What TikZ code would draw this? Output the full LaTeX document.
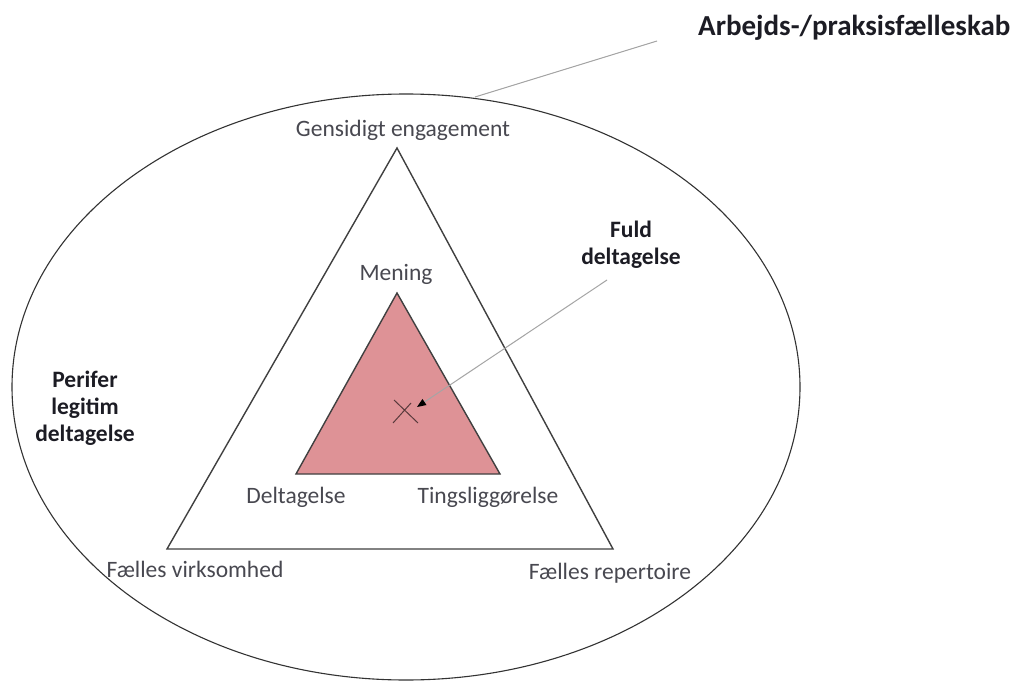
\documentclass[tikz,border=0pt]{standalone}
\usepackage{fontspec}
\setmainfont{Carlito}
\usetikzlibrary{arrows.meta}
\definecolor{inner}{RGB}{222,146,150}
\definecolor{lbl}{RGB}{72,72,80}
\definecolor{blk}{RGB}{28,28,36}
\definecolor{thin}{RGB}{165,165,165}
\begin{document}
\begin{tikzpicture}[x=1pt,y=-1pt,
  lab/.style={text=lbl,font=\fontsize{23.5}{27}\selectfont,inner sep=0pt},
  blab/.style={text=blk,font=\bfseries\fontsize{23.5}{27}\selectfont,inner sep=0pt,align=center},
  edge/.style={draw=black!75,line width=1.4pt,line join=miter},
  pointer/.style={draw=thin,line width=1pt}]
\useasboundingbox (0,0) rectangle (1020,682);
\fill[white] (0,0) rectangle (1020,682);
% outer ellipse
\draw[black!80,line width=1.1pt] (406,387) ellipse [x radius=394, y radius=293];
% outer triangle
\coordinate (OA) at (397,148);
\coordinate (OL) at (167,549);
\coordinate (OR) at (613,549);
\draw[edge] (OA) -- (OL) -- (OR) -- cycle;
% inner triangle
\coordinate (IA) at (397,293);
\coordinate (IL) at (296,474);
\coordinate (IR) at (500,474);
\draw[edge,fill=inner] (IA) -- (IL) -- (IR) -- cycle;
% cross
\coordinate (x1) at (394,400);
\coordinate (x2) at (418,423);
\coordinate (x3) at (393,423);
\coordinate (x4) at (411,403);
\draw[draw=black!60!inner,line width=1pt] (x1) -- (x2) (x3) -- (x4);
% labels
\node[text=blk,font=\bfseries\fontsize{29}{34}\selectfont,inner sep=0pt,anchor=base west] (title) at (698,36) {Arbejds-/praksisfælleskab};
\node[lab,anchor=base] (ge) at (403,137) {Gensidigt engagement};
\node[lab,anchor=base] (men) at (396,280) {Mening};
\node[blab] (fuld) at (631,245) {Fuld\\deltagelse};
\node[blab] (per) at (85,408) {Perifer\\legitim\\deltagelse};
\node[lab,anchor=base] (del) at (296,503) {Deltagelse};
\node[lab,anchor=base] (ting) at (488,503) {Tingsliggørelse};
\node[lab,anchor=base] (fv) at (195,577) {Fælles virksomhed};
\node[lab,anchor=base] (fr) at (610,579) {Fælles repertoire};
% pointers
\coordinate (ellTop) at (475,97);
\coordinate (tEnd) at (657,41);
\draw[pointer] (ellTop) -- (tEnd);
\coordinate (aStart) at (607,280);
\coordinate (aEnd) at (417,407);
\draw[pointer,-{Triangle[length=9pt,width=7pt,fill=black,color=black]}] (aStart) -- (aEnd);
\end{tikzpicture}
\end{document}
